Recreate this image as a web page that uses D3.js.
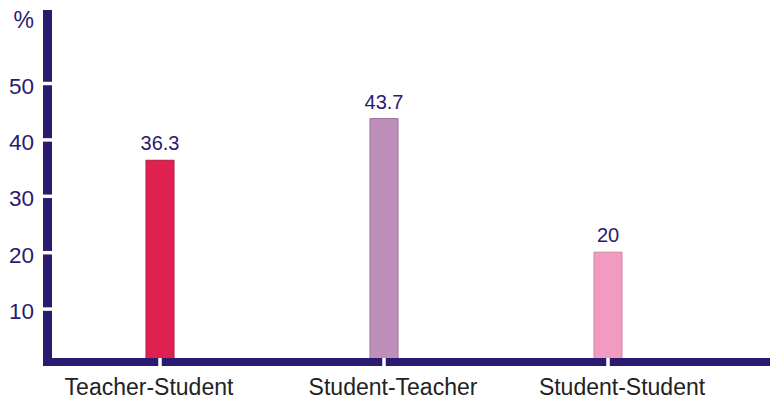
<!DOCTYPE html>
<html>
<head>
<meta charset="utf-8">
<script src="https://cdn.jsdelivr.net/npm/d3@7"></script>
<style>
  html, body { margin: 0; padding: 0; background: #fff; }
  svg { display: block; font-family: Arial, "Liberation Sans", sans-serif; }
</style>
</head>
<body>
<svg id="chart" width="770" height="400"></svg>
<script>
// Share of interaction by direction (%)
const categories = ["Teacher-Student", "Student-Teacher", "Student-Student"];
const values = [36.3, 43.7, 20];
const barColors = ["#e0204f", "#bf8fbb", "#f29bc2"];
const barStrokes = ["#b01a40", "#9c739a", "#cf86a6"];
const yTicks = [10, 20, 30, 40, 50];

const navy = "#2a1b70";
const svg = d3.select("#chart");

const y = d3.scaleLinear().domain([0, 50]).range([365, 83]);
const x = d3.scaleBand()
  .domain(categories)
  .range([48, 720])
  .paddingInner(0.875)
  .paddingOuter(0.4375);

// bars
svg.append("g").selectAll("rect")
  .data(values)
  .join("rect")
  .attr("x", (d, i) => x(categories[i]))
  .attr("width", x.bandwidth())
  .attr("y", d => y(d))
  .attr("height", d => y(0) - y(d))
  .attr("fill", (d, i) => barColors[i])
  .attr("stroke", (d, i) => barStrokes[i])
  .attr("stroke-width", 1);

// value labels
svg.append("g").selectAll("text")
  .data(values)
  .join("text")
  .attr("x", (d, i) => x(categories[i]) + x.bandwidth() / 2)
  .attr("y", d => y(d) - 10)
  .attr("text-anchor", "middle")
  .attr("font-size", 20)
  .attr("fill", navy)
  .text(d => d);

// thick axis lines
svg.append("rect").attr("x", 43).attr("y", 10).attr("width", 9).attr("height", 356).attr("fill", navy);
svg.append("rect").attr("x", 45).attr("y", 358).attr("width", 725).attr("height", 8).attr("fill", navy);

// y axis: white notches across the thick line + labels
const yAxis = svg.append("g")
  .attr("transform", "translate(52,0)")
  .call(d3.axisLeft(y).tickValues(yTicks).tickSize(10).tickPadding(8).tickFormat(d3.format("d")));
yAxis.select(".domain").remove();
yAxis.selectAll(".tick line").attr("stroke", "#fff").attr("stroke-width", 3.5);
yAxis.selectAll(".tick text")
  .attr("font-size", 22.5)
  .attr("font-family", "Arial, 'Liberation Sans', sans-serif")
  .attr("fill", navy)
  .attr("dy", "0.45em");

// unit label
svg.append("text")
  .attr("x", 34).attr("y", 28)
  .attr("text-anchor", "end")
  .attr("font-size", 23)
  .attr("fill", navy)
  .text("%");

// x axis: notches + category labels (labels sit slightly off their notches)
const labelShift = [-11, 9, 14];
const xAxis = svg.append("g")
  .attr("transform", "translate(0,358)")
  .call(d3.axisBottom(x).tickSize(8).tickPadding(13));
xAxis.select(".domain").remove();
xAxis.selectAll(".tick line").attr("stroke", "#fff").attr("stroke-width", 3.5);
xAxis.selectAll(".tick text")
  .attr("font-size", 23)
  .attr("font-family", "Arial, 'Liberation Sans', sans-serif")
  .attr("fill", "#222")
  .attr("dx", (d, i) => labelShift[i]);
</script>
</body>
</html>
